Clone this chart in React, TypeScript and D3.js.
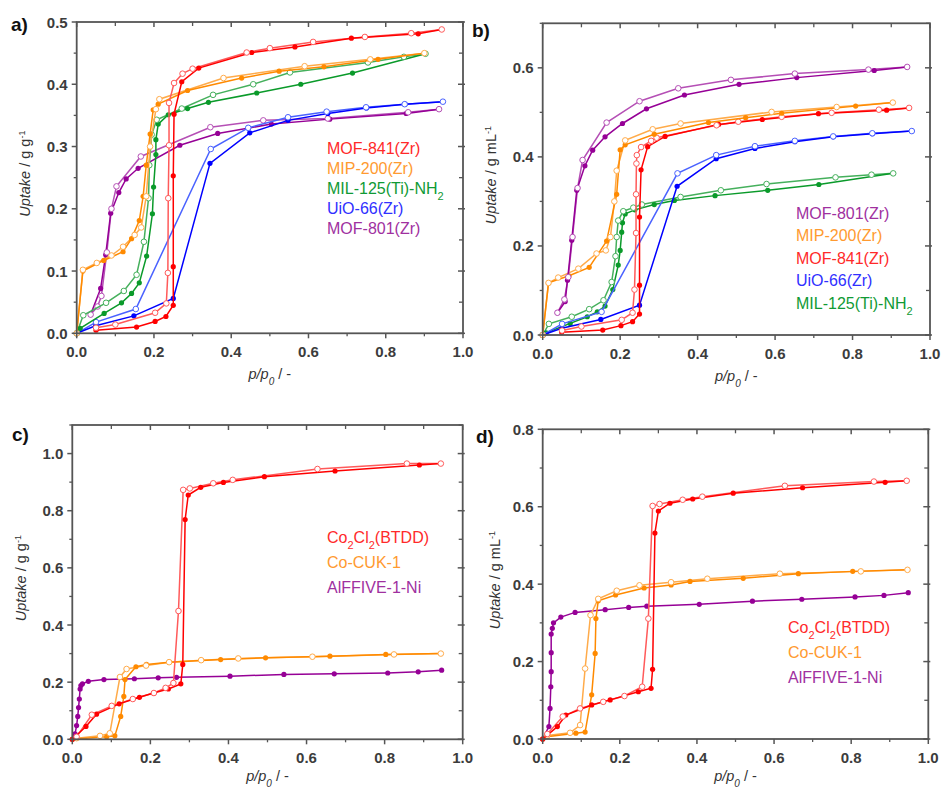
import React from "react";
import * as d3 from "d3";

type Pt = [number, number];

// ---------- Panel a (g/g) ----------
const aMOF841Ads: Pt[] = [[0.05,0.005],[0.155,0.010],[0.203,0.019],[0.231,0.027],[0.25,0.045],[0.25,0.107],[0.25,0.253],[0.252,0.352],[0.272,0.404],[0.316,0.426],[0.453,0.451],[0.565,0.460],[0.711,0.474],[0.884,0.481]];
const aMOF841Des: Pt[] = [[0.945,0.488],[0.866,0.482],[0.746,0.476],[0.612,0.468],[0.5,0.458],[0.44,0.451],[0.30,0.425],[0.274,0.417],[0.252,0.402],[0.239,0.37],[0.239,0.302],[0.237,0.217],[0.236,0.097],[0.232,0.048],[0.203,0.033],[0.10,0.014],[0.05,0.009]];
const aMIP200Ads: Pt[] = [[0,0],[0.016,0.10],[0.07,0.117],[0.12,0.131],[0.142,0.152],[0.162,0.181],[0.172,0.22],[0.18,0.27],[0.19,0.32],[0.198,0.359],[0.211,0.368],[0.287,0.39],[0.427,0.41],[0.524,0.421],[0.64,0.428],[0.78,0.44]];
const aMIP200Des: Pt[] = [[0.90,0.45],[0.76,0.44],[0.59,0.429],[0.38,0.41],[0.214,0.376],[0.205,0.36],[0.19,0.30],[0.18,0.22],[0.167,0.17],[0.15,0.158],[0.12,0.139],[0.09,0.125],[0.052,0.113],[0.016,0.102],[0,0]];
const aMIL125Ads: Pt[] = [[0,0],[0.009,0.008],[0.071,0.032],[0.116,0.049],[0.142,0.064],[0.162,0.081],[0.181,0.124],[0.196,0.192],[0.199,0.235],[0.205,0.287],[0.205,0.311],[0.211,0.336],[0.237,0.351],[0.287,0.361],[0.341,0.371],[0.466,0.386],[0.58,0.40],[0.714,0.418]];
const aMIL125Des: Pt[] = [[0.903,0.449],[0.847,0.444],[0.754,0.435],[0.552,0.419],[0.457,0.40],[0.353,0.383],[0.272,0.361],[0.207,0.343],[0.194,0.319],[0.188,0.27],[0.186,0.217],[0.174,0.147],[0.155,0.094],[0.122,0.068],[0.076,0.049],[0.017,0.029],[0,0]];
const aUiO66Ads: Pt[] = [[0,0],[0.049,0.012],[0.148,0.028],[0.25,0.056],[0.345,0.273],[0.448,0.322],[0.547,0.342],[0.65,0.353],[0.75,0.362],[0.85,0.368]];
const aUiO66Des: Pt[] = [[0.948,0.372],[0.849,0.368],[0.749,0.363],[0.647,0.356],[0.547,0.347],[0.444,0.33],[0.347,0.296],[0.153,0.039],[0.05,0.018],[0,0]];
const aMOF801Ads: Pt[] = [[0.036,0.030],[0.062,0.072],[0.075,0.126],[0.088,0.193],[0.109,0.226],[0.128,0.248],[0.159,0.265],[0.267,0.302],[0.365,0.321],[0.504,0.336],[0.655,0.344],[0.853,0.353]];
const aMOF801Des: Pt[] = [[0.938,0.36],[0.858,0.355],[0.65,0.345],[0.483,0.342],[0.346,0.331],[0.166,0.284],[0.103,0.236],[0.09,0.2],[0.078,0.13],[0.064,0.06],[0.054,0.043],[0.036,0.03]];

// ---------- Panel b (g/mL) ----------
const bMOF801Ads: Pt[] = [[0.038,0.05],[0.058,0.075],[0.064,0.123],[0.075,0.213],[0.088,0.325],[0.109,0.38],[0.129,0.415],[0.161,0.445],[0.206,0.475],[0.268,0.508],[0.366,0.539],[0.507,0.563],[0.656,0.578],[0.856,0.594]];
const bMOF801Des: Pt[] = [[0.941,0.602],[0.841,0.596],[0.651,0.587],[0.486,0.573],[0.35,0.554],[0.25,0.525],[0.165,0.477],[0.103,0.393],[0.09,0.33],[0.077,0.22],[0.066,0.13],[0.056,0.08],[0.038,0.05]];
const bMIP200Ads: Pt[] = [[0,0],[0.015,0.117],[0.068,0.133],[0.12,0.152],[0.165,0.211],[0.191,0.316],[0.2,0.416],[0.213,0.427],[0.288,0.451],[0.428,0.477],[0.524,0.488],[0.617,0.498],[0.808,0.514]];
const bMIP200Des: Pt[] = [[0.904,0.522],[0.759,0.512],[0.591,0.501],[0.356,0.475],[0.284,0.462],[0.213,0.437],[0.191,0.369],[0.185,0.3],[0.175,0.22],[0.163,0.19],[0.139,0.183],[0.092,0.149],[0.04,0.129],[0.015,0.117],[0,0]];
const bMOF841Ads: Pt[] = [[0.049,0.006],[0.155,0.011],[0.202,0.021],[0.232,0.03],[0.25,0.047],[0.25,0.112],[0.25,0.265],[0.254,0.371],[0.271,0.423],[0.316,0.446],[0.454,0.473],[0.567,0.484],[0.712,0.497],[0.888,0.505]];
const bMOF841Des: Pt[] = [[0.946,0.51],[0.868,0.506],[0.746,0.499],[0.617,0.49],[0.505,0.479],[0.449,0.471],[0.294,0.443],[0.28,0.436],[0.254,0.422],[0.243,0.404],[0.242,0.385],[0.241,0.316],[0.241,0.229],[0.237,0.102],[0.232,0.05],[0.204,0.034],[0.1,0.019],[0.05,0.01]];
const bUiO66Ads: Pt[] = [[0,0],[0.049,0.015],[0.15,0.035],[0.25,0.067],[0.347,0.334],[0.448,0.396],[0.548,0.419],[0.651,0.434],[0.75,0.445],[0.851,0.452]];
const bUiO66Des: Pt[] = [[0.953,0.458],[0.851,0.453],[0.75,0.446],[0.651,0.436],[0.548,0.424],[0.448,0.404],[0.348,0.363],[0.152,0.052],[0.05,0.025],[0,0]];
const bMIL125Ads: Pt[] = [[0,0],[0.009,0.005],[0.071,0.026],[0.115,0.041],[0.141,0.052],[0.161,0.065],[0.181,0.102],[0.195,0.157],[0.2,0.19],[0.204,0.231],[0.206,0.252],[0.213,0.272],[0.238,0.281],[0.288,0.293],[0.34,0.302],[0.445,0.313],[0.581,0.325],[0.713,0.338]];
const bMIL125Des: Pt[] = [[0.905,0.363],[0.849,0.36],[0.756,0.354],[0.578,0.339],[0.46,0.325],[0.356,0.31],[0.256,0.293],[0.234,0.286],[0.208,0.278],[0.195,0.257],[0.191,0.22],[0.188,0.177],[0.178,0.119],[0.157,0.078],[0.12,0.058],[0.075,0.041],[0.016,0.025],[0,0]];

// ---------- Panel c (g/g) ----------
const cCoBTDDAds: Pt[] = [[0,0],[0.035,0.045],[0.062,0.088],[0.12,0.124],[0.172,0.147],[0.208,0.162],[0.246,0.176],[0.278,0.194],[0.283,0.262],[0.289,0.769],[0.297,0.855],[0.329,0.882],[0.387,0.899],[0.492,0.919],[0.673,0.939],[0.889,0.96]];
const cCoBTDDDes: Pt[] = [[0.944,0.965],[0.857,0.965],[0.628,0.946],[0.411,0.908],[0.361,0.896],[0.301,0.878],[0.284,0.873],[0.272,0.449],[0.259,0.197],[0.239,0.18],[0.209,0.162],[0.155,0.141],[0.101,0.117],[0.05,0.086],[0.011,0.009]];
const cCoCUKAds: Pt[] = [[0,0],[0.088,0.009],[0.109,0.012],[0.124,0.08],[0.132,0.15],[0.135,0.209],[0.163,0.254],[0.19,0.262],[0.248,0.27],[0.38,0.279],[0.495,0.285],[0.66,0.291],[0.803,0.297]];
const cCoCUKDes: Pt[] = [[0.944,0.3],[0.824,0.297],[0.615,0.289],[0.425,0.283],[0.33,0.277],[0.248,0.27],[0.189,0.258],[0.139,0.246],[0.122,0.218],[0.096,0.021],[0.071,0.012],[0.011,0.004]];
const cAlFFIVEAds: Pt[] = [[0,0],[0.007,0.019],[0.011,0.048],[0.014,0.08],[0.016,0.111],[0.018,0.141],[0.02,0.176],[0.022,0.188],[0.026,0.194],[0.041,0.203],[0.081,0.209],[0.159,0.212],[0.22,0.215],[0.267,0.217],[0.404,0.221],[0.542,0.227],[0.671,0.229],[0.808,0.232],[0.886,0.236],[0.946,0.242]];

// ---------- Panel d (g/mL) ----------
const dCoBTDDAds: Pt[] = [[0,0],[0.038,0.032],[0.06,0.062],[0.127,0.088],[0.175,0.101],[0.248,0.122],[0.281,0.131],[0.285,0.18],[0.291,0.532],[0.3,0.589],[0.33,0.609],[0.389,0.62],[0.494,0.635],[0.674,0.649],[0.888,0.663]];
const dCoBTDDDes: Pt[] = [[0.944,0.667],[0.859,0.665],[0.628,0.654],[0.414,0.626],[0.363,0.618],[0.303,0.607],[0.285,0.602],[0.274,0.311],[0.258,0.135],[0.212,0.111],[0.157,0.096],[0.097,0.079],[0.052,0.058],[0.012,0.013]];
const dCoCUKAds: Pt[] = [[0,0],[0.01,0.006],[0.086,0.015],[0.11,0.018],[0.127,0.114],[0.136,0.221],[0.138,0.311],[0.144,0.357],[0.189,0.372],[0.263,0.39],[0.333,0.398],[0.382,0.407],[0.52,0.415],[0.663,0.427],[0.804,0.433]];
const dCoCUKDes: Pt[] = [[0.946,0.437],[0.825,0.433],[0.615,0.427],[0.427,0.414],[0.333,0.405],[0.251,0.397],[0.192,0.383],[0.144,0.362],[0.124,0.32],[0.11,0.182],[0.097,0.036],[0.071,0.016],[0.012,0.009]];
const dAlFFIVEAds: Pt[] = [[0,0],[0.016,0.032],[0.019,0.079],[0.021,0.135],[0.022,0.174],[0.022,0.223],[0.022,0.271],[0.025,0.286],[0.028,0.3],[0.047,0.315],[0.084,0.327],[0.162,0.334],[0.223,0.34],[0.27,0.343],[0.406,0.348],[0.544,0.356],[0.672,0.361],[0.81,0.367],[0.885,0.371],[0.948,0.378]];

// legend labels (order as shown)
const legendA = ["MOF-841(Zr)", "MIP-200(Zr)", "MIL-125(Ti)-NH2", "UiO-66(Zr)", "MOF-801(Zr)"];
const legendB = ["MOF-801(Zr)", "MIP-200(Zr)", "MOF-841(Zr)", "UiO-66(Zr)", "MIL-125(Ti)-NH2"];
const legendC = ["Co2Cl2(BTDD)", "Co-CUK-1", "AlFFIVE-1-Ni"];
const xTickValues = [0, 0.2, 0.4, 0.6, 0.8, 1.0];

const COL: Record<string, { ads: string; des: string; text: string }> = {
  red: { ads: "#ff0000", des: "#ff5a5a", text: "#ff2a2a" },
  orange: { ads: "#ff8a00", des: "#ffab4a", text: "#ff9a30" },
  green: { ads: "#0a9a2a", des: "#45b05c", text: "#109a35" },
  blue: { ads: "#0000ff", des: "#4a62ff", text: "#3030ff" },
  purple: { ads: "#960096", des: "#b54fb5", text: "#a0309f" },
};
const NAME_COLOR: Record<string, string> = {
  "MOF-841(Zr)": "red", "MIP-200(Zr)": "orange", "MIL-125(Ti)-NH2": "green", "UiO-66(Zr)": "blue", "MOF-801(Zr)": "purple",
  "Co2Cl2(BTDD)": "red", "Co-CUK-1": "orange", "AlFFIVE-1-Ni": "purple",
};

interface Series { color: string; ads: Pt[]; des?: Pt[] }
interface PanelCfg {
  label: string; left: number; right: number; top: number; bottom: number;
  yMax: number; yStep: number; unit: string; series: Series[]; legend: string[];
  legendX: number; legendY: number; legendDy: number; yTitleX: number; labelX: number; labelY: number; xTitleDy: number;
}

const panels: PanelCfg[] = [
  { label: "a)", left: 76.7, right: 463, top: 22, bottom: 333.3, yMax: 0.5, yStep: 0.1, unit: "g g", series: [
    { color: "purple", ads: aMOF801Ads, des: aMOF801Des },
    { color: "blue", ads: aUiO66Ads, des: aUiO66Des },
    { color: "green", ads: aMIL125Ads, des: aMIL125Des },
    { color: "orange", ads: aMIP200Ads, des: aMIP200Des },
    { color: "red", ads: aMOF841Ads, des: aMOF841Des },
  ], legend: legendA, legendX: 327, legendY: 148, legendDy: 20, yTitleX: 30, labelX: 11, labelY: 31, xTitleDy: 46 },
  { label: "b)", left: 542.7, right: 930, top: 23.3, bottom: 335, yMax: 0.7, yStep: 0.2, unit: "g mL", series: [
    { color: "green", ads: bMIL125Ads, des: bMIL125Des },
    { color: "blue", ads: bUiO66Ads, des: bUiO66Des },
    { color: "red", ads: bMOF841Ads, des: bMOF841Des },
    { color: "orange", ads: bMIP200Ads, des: bMIP200Des },
    { color: "purple", ads: bMOF801Ads, des: bMOF801Des },
  ], legend: legendB, legendX: 796, legendY: 213, legendDy: 22.5, yTitleX: 496, labelX: 472, labelY: 37, xTitleDy: 46 },
  { label: "c)", left: 72.3, right: 462.7, top: 425, bottom: 739.3, yMax: 1.1, yStep: 0.2, unit: "g g", series: [
    { color: "purple", ads: cAlFFIVEAds },
    { color: "orange", ads: cCoCUKAds, des: cCoCUKDes },
    { color: "red", ads: cCoBTDDAds, des: cCoBTDDDes },
  ], legend: legendC, legendX: 327, legendY: 537, legendDy: 25, yTitleX: 26, labelX: 12, labelY: 441, xTitleDy: 42 },
  { label: "d)", left: 542.7, right: 928.3, top: 429.3, bottom: 739, yMax: 0.8, yStep: 0.2, unit: "g mL", series: [
    { color: "purple", ads: dAlFFIVEAds },
    { color: "orange", ads: dCoCUKAds, des: dCoCUKDes },
    { color: "red", ads: dCoBTDDAds, des: dCoBTDDDes },
  ], legend: legendC, legendX: 788, legendY: 627, legendDy: 25, yTitleX: 500, labelX: 476, labelY: 443, xTitleDy: 42 },
];

const FONT = "Arial, 'Liberation Sans', Helvetica, sans-serif";
const fmt = d3.format(".1f");

function LegendText({ name }: { name: string }) {
  if (name === "MIL-125(Ti)-NH2") return <>MIL-125(Ti)-NH<tspan baselineShift="sub" fontSize="11">2</tspan></>;
  if (name === "Co2Cl2(BTDD)") return <>Co<tspan baselineShift="sub" fontSize="11">2</tspan>Cl<tspan baselineShift="sub" fontSize="11">2</tspan>(BTDD)</>;
  return <>{name}</>;
}

function Panel({ cfg }: { cfg: PanelCfg }) {
  const x = d3.scaleLinear().domain([0, 1]).range([cfg.left, cfg.right]);
  const y = d3.scaleLinear().domain([0, cfg.yMax]).range([cfg.bottom, cfg.top]);
  const line = d3.line<Pt>().x((d) => x(d[0])).y((d) => y(d[1]));
  const xMinor = d3.range(0.1, 1, 0.2);
  const yMajor = d3.range(0, cfg.yMax + 1e-9, cfg.yStep);
  const yMinor = d3.range(cfg.yStep / 2, cfg.yMax + 1e-9, cfg.yStep);
  const axisCol = "#555";
  const cx = (cfg.left + cfg.right) / 2;
  const cy = (cfg.top + cfg.bottom) / 2 - 4;
  return (
    <g>
      {cfg.series.map((s, i) => {
        const c = COL[s.color];
        const adsPath = s.des ? [...s.ads, s.des[0]] : s.ads;
        return (
          <g key={i}>
            {s.des && <path d={line(s.des) || ""} fill="none" stroke={c.des} strokeWidth={1.5} />}
            <path d={line(adsPath) || ""} fill="none" stroke={c.ads} strokeWidth={1.5} />
            {s.ads.map((p, j) => <circle key={"a" + j} cx={x(p[0])} cy={y(p[1])} r={2.6} fill={c.ads} />)}
            {s.des && s.des.map((p, j) => <circle key={"d" + j} cx={x(p[0])} cy={y(p[1])} r={2.8} fill="#fff" stroke={c.des} strokeWidth={1} />)}
          </g>
        );
      })}
      <rect x={cfg.left} y={cfg.top} width={cfg.right - cfg.left} height={cfg.bottom - cfg.top} fill="none" stroke={axisCol} strokeWidth={1.8} />
      {xTickValues.map((v) => (
        <g key={"xt" + v}>
          <line x1={x(v)} x2={x(v)} y1={cfg.bottom} y2={cfg.bottom + 5} stroke={axisCol} strokeWidth={1.5} />
          <line x1={x(v)} x2={x(v)} y1={cfg.top} y2={cfg.top + 5} stroke={axisCol} strokeWidth={1.5} />
          <text x={x(v)} y={cfg.bottom + 24} textAnchor="middle" fontSize={15} fontWeight="bold" fill="#3c3c3c" fontFamily={FONT}>{fmt(v)}</text>
        </g>
      ))}
      {xMinor.map((v) => (
        <g key={"xm" + v}>
          <line x1={x(v)} x2={x(v)} y1={cfg.bottom} y2={cfg.bottom + 3} stroke={axisCol} strokeWidth={1.3} />
          <line x1={x(v)} x2={x(v)} y1={cfg.top} y2={cfg.top + 4} stroke={axisCol} strokeWidth={1.3} />
        </g>
      ))}
      {yMajor.map((v) => (
        <g key={"yt" + v}>
          <line x1={cfg.left - 5} x2={cfg.left} y1={y(v)} y2={y(v)} stroke={axisCol} strokeWidth={1.5} />
          <line x1={cfg.right - 5} x2={cfg.right + 2} y1={y(v)} y2={y(v)} stroke={axisCol} strokeWidth={1.5} />
          <text x={cfg.left - 9} y={y(v) + 5.5} textAnchor="end" fontSize={15} fontWeight="bold" fill="#3c3c3c" fontFamily={FONT}>{fmt(v)}</text>
        </g>
      ))}
      {yMinor.map((v) => (
        <g key={"ym" + v}>
          <line x1={cfg.left - 3} x2={cfg.left} y1={y(v)} y2={y(v)} stroke={axisCol} strokeWidth={1.3} />
          <line x1={cfg.right - 4} x2={cfg.right} y1={y(v)} y2={y(v)} stroke={axisCol} strokeWidth={1.3} />
        </g>
      ))}
      <text x={cfg.labelX} y={cfg.labelY} fontSize={19} fontWeight="bold" fill="#111" fontFamily={FONT}>{cfg.label}</text>
      <text transform={`translate(${cfg.yTitleX},${cy}) rotate(-90)`} textAnchor="middle" fontSize={14.5} fill="#333" fontFamily={FONT}>
        <tspan fontStyle="italic">Uptake</tspan> / {cfg.unit}<tspan baselineShift="super" fontSize="9">-1</tspan>
      </text>
      <text x={cx} y={cfg.bottom + cfg.xTitleDy} textAnchor="middle" fontSize={14.5} fill="#333" fontFamily={FONT}>
        <tspan fontStyle="italic">p/p</tspan><tspan baselineShift="sub" fontSize="10" fontStyle="italic">0</tspan>  / -
      </text>
      {cfg.legend.map((name, i) => (
        <text key={name} x={cfg.legendX} y={cfg.legendY + i * cfg.legendDy + 5.5} fontSize={16} fill={COL[NAME_COLOR[name]].text} fontFamily={FONT}>
          <LegendText name={name} />
        </text>
      ))}
    </g>
  );
}

export default function App() {
  return (
    <svg width={941} height={789} style={{ position: "absolute", left: 0, top: 0, background: "#fff" }}>
      <rect width={941} height={789} fill="#fff" />
      {panels.map((p) => <Panel key={p.label} cfg={p} />)}
    </svg>
  );
}
